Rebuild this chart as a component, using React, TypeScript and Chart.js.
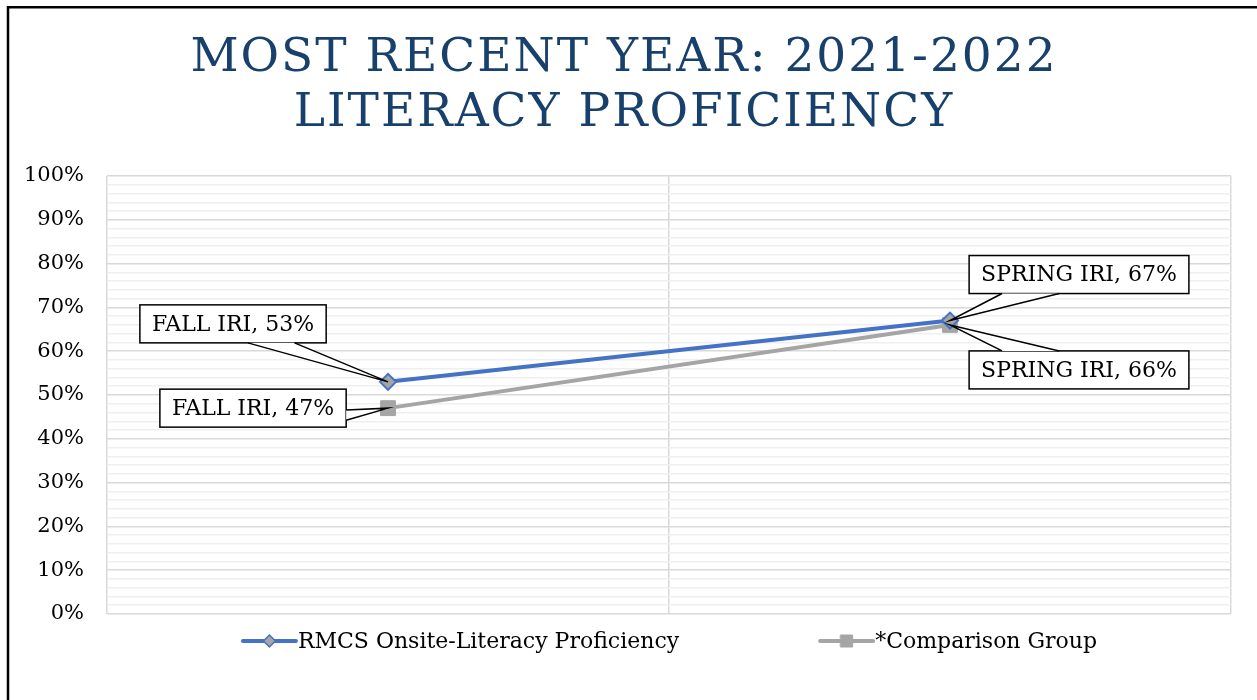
import React, { useEffect, useRef } from 'react';
import { Chart, registerables } from 'chart.js';

Chart.register(...registerables);

// ---- data ----
const categories = ['FALL IRI', 'SPRING IRI'];
const rmcsValues = [53, 67];
const comparisonValues = [47, 66];
const seriesNames = ['RMCS Onsite-Literacy Proficiency', '*Comparison Group'];
const titleLines = ['MOST RECENT YEAR: 2021-2022', 'LITERACY PROFICIENCY'];
const yMin = 0;
const yMax = 100;
const yMajorStep = 10;
const yMinorStep = 2;

// ---- styles ----
const SERIF = '"DejaVu Serif", "Liberation Serif", serif';
const blue = '#4472C4';
const gray = '#A5A5A5';
const titleColor = '#17406D';

// callout placement relative to each point (offsets of box centre, side of box the wedge leaves from, wedge base fractions)
const calloutLayout = [
  [
    { dx: -155, dy: -58, side: 'bottom', f: [0.58, 0.83] },
    { dx: 129, dy: -46, side: 'bottom', f: [0.15, 0.41] },
  ],
  [
    { dx: -135, dy: 0, side: 'right', f: [0.55, 0.82] },
    { dx: 129, dy: 45, side: 'top', f: [0.15, 0.41] },
  ],
];

const borderPlugin = {
  id: 'outerBorder',
  beforeDraw(chart: any) {
    const ctx = chart.ctx;
    ctx.save();
    ctx.fillStyle = '#ffffff';
    ctx.fillRect(0, 0, chart.width, chart.height);
    ctx.strokeStyle = '#000000';
    ctx.lineWidth = 2.5;
    ctx.beginPath();
    ctx.moveTo(8, chart.height + 10);
    ctx.lineTo(8, 7.25);
    ctx.lineTo(chart.width + 10, 7.25);
    ctx.stroke();
    ctx.restore();
  },
};

const spacedTitlePlugin = {
  id: 'spacedTitle',
  afterDraw(chart: any) {
    const ctx: any = chart.ctx;
    ctx.save();
    ctx.font = `47px ${SERIF}`;
    ctx.fillStyle = titleColor;
    ctx.textAlign = 'center';
    ctx.textBaseline = 'alphabetic';
    ctx.letterSpacing = '2px';
    const cx = 624;
    const baselines = [71, 126];
    titleLines.forEach((line, i) => ctx.fillText(line, cx, baselines[i]));
    ctx.restore();
  },
};

function drawMarker(ctx: CanvasRenderingContext2D, style: string, x: number, y: number, r: number, fill: string, stroke: string, bw: number) {
  ctx.save();
  ctx.beginPath();
  if (style === 'rectRot') {
    ctx.moveTo(x, y - r);
    ctx.lineTo(x + r, y);
    ctx.lineTo(x, y + r);
    ctx.lineTo(x - r, y);
    ctx.closePath();
  } else {
    ctx.rect(x - r, y - r, 2 * r, 2 * r);
  }
  ctx.fillStyle = fill;
  ctx.fill();
  ctx.lineWidth = bw;
  ctx.strokeStyle = stroke;
  ctx.stroke();
  ctx.restore();
}

const legendPlugin = {
  id: 'customLegend',
  afterDraw(chart: any) {
    const ctx: CanvasRenderingContext2D = chart.ctx;
    const area = chart.chartArea;
    ctx.save();
    ctx.font = `22px ${SERIF}`;
    const sampleW = 57;
    const gap = 139;
    const items = chart.data.datasets.map((ds: any) => ({
      label: ds.label,
      color: ds.borderColor,
      style: ds.pointStyle,
      fill: ds.pointBackgroundColor,
      w: ctx.measureText(ds.label).width,
    }));
    const total = items.reduce((s: number, it: any) => s + sampleW + it.w, 0) + gap * (items.length - 1);
    let x = (area.left + area.right) / 2 - total / 2;
    const y = area.bottom + 27;
    items.forEach((it: any) => {
      ctx.strokeStyle = it.color;
      ctx.lineWidth = 4;
      ctx.lineCap = 'round';
      ctx.beginPath();
      ctx.moveTo(x + 2, y);
      ctx.lineTo(x + sampleW - 2, y);
      ctx.stroke();
      if (it.style === 'rectRot') drawMarker(ctx, 'rectRot', x + sampleW / 2, y, 6, it.fill, it.color, 1.5);
      else drawMarker(ctx, 'rect', x + sampleW / 2, y, 6, it.fill, it.fill, 1);
      ctx.fillStyle = '#000000';
      ctx.textBaseline = 'middle';
      ctx.textAlign = 'left';
      ctx.fillText(it.label, x + sampleW, y + 1);
      x += sampleW + it.w + gap;
    });
    ctx.restore();
  },
};

const calloutPlugin = {
  id: 'callouts',
  afterDatasetsDraw(chart: any) {
    const ctx: CanvasRenderingContext2D = chart.ctx;
    ctx.save();
    ctx.font = `22px ${SERIF}`;
    chart.data.datasets.forEach((ds: any, di: number) => {
      const meta = chart.getDatasetMeta(di);
      meta.data.forEach((pt: any, i: number) => {
        const lay = calloutLayout[di][i];
        const text = `${chart.data.labels[i]}, ${ds.data[i]}%`;
        const tw = ctx.measureText(text).width;
        const bw = tw + 24;
        const bh = 38;
        const cx = pt.x + lay.dx;
        const cy = pt.y + lay.dy;
        const left = cx - bw / 2;
        const top = cy - bh / 2;
        // box
        ctx.fillStyle = '#ffffff';
        ctx.fillRect(left, top, bw, bh);
        ctx.strokeStyle = '#000000';
        ctx.lineWidth = 1.5;
        ctx.strokeRect(left, top, bw, bh);
        // wedge
        let a: [number, number], b: [number, number];
        if (lay.side === 'bottom') {
          a = [left + bw * lay.f[0], top + bh];
          b = [left + bw * lay.f[1], top + bh];
        } else if (lay.side === 'top') {
          a = [left + bw * lay.f[0], top];
          b = [left + bw * lay.f[1], top];
        } else if (lay.side === 'right') {
          a = [left + bw, top + bh * lay.f[0]];
          b = [left + bw, top + bh * lay.f[1]];
        } else {
          a = [left, top + bh * lay.f[0]];
          b = [left, top + bh * lay.f[1]];
        }
        ctx.beginPath();
        ctx.moveTo(a[0], a[1]);
        ctx.lineTo(pt.x, pt.y);
        ctx.lineTo(b[0], b[1]);
        ctx.closePath();
        ctx.fillStyle = '#ffffff';
        ctx.fill();
        ctx.beginPath();
        ctx.moveTo(a[0], a[1]);
        ctx.lineTo(pt.x, pt.y);
        ctx.lineTo(b[0], b[1]);
        ctx.stroke();
        // text
        ctx.fillStyle = '#000000';
        ctx.textAlign = 'center';
        ctx.textBaseline = 'middle';
        ctx.fillText(text, cx, cy + 1);
      });
    });
    ctx.restore();
  },
};

export default function App() {
  const ref = useRef<HTMLCanvasElement | null>(null);

  useEffect(() => {
    if (!ref.current) return;
    const chart = new Chart(ref.current, {
      type: 'line',
      data: {
        labels: categories,
        datasets: [
          {
            label: seriesNames[0],
            data: rmcsValues,
            borderColor: blue,
            borderWidth: 4,
            pointStyle: 'rectRot',
            pointRadius: 8,
            pointBackgroundColor: gray,
            pointBorderColor: blue,
            pointBorderWidth: 2,
            tension: 0,
          },
          {
            label: seriesNames[1],
            data: comparisonValues,
            borderColor: gray,
            borderWidth: 4,
            pointStyle: 'rect',
            pointRadius: 10.5,
            pointBackgroundColor: gray,
            pointBorderColor: gray,
            pointBorderWidth: 1,
            tension: 0,
          },
        ],
      },
      options: {
        responsive: false,
        animation: false,
        layout: { padding: { left: 1, right: 26, top: 176, bottom: 86 } },
        scales: {
          x: {
            type: 'category',
            offset: true,
            grid: { offset: true, color: '#D9D9D9', lineWidth: 1.5, drawTicks: false },
            ticks: { display: false },
            border: { display: false },
          },
          y: {
            min: yMin,
            max: yMax,
            ticks: {
              stepSize: yMinorStep,
              autoSkip: false,
              padding: 23,
              color: '#000000',
              font: { family: SERIF, size: 21 },
              callback: (v: any) => (Number(v) % yMajorStep === 0 ? `${v}%` : ''),
            },
            grid: {
              drawTicks: false,
              lineWidth: 1.5,
              color: (c: any) => (c.tick && c.tick.value % yMajorStep === 0 ? '#D9D9D9' : '#EFEFEF'),
            },
            border: { display: false },
          },
        },
        plugins: {
          legend: { display: false },
          tooltip: { enabled: false },
          title: { display: false },
        },
      },
      plugins: [borderPlugin, calloutPlugin, legendPlugin, spacedTitlePlugin],
    } as any);
    return () => chart.destroy();
  }, []);

  return (
    <div style={{ position: 'fixed', left: 0, top: 0, width: 1257, height: 700, overflow: 'hidden', background: '#fff' }}>
      <canvas ref={ref} width={1257} height={700} style={{ display: 'block' }} />
    </div>
  );
}
